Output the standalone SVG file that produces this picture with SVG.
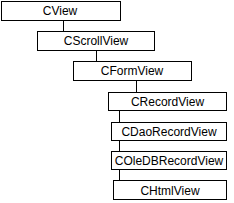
<svg xmlns="http://www.w3.org/2000/svg" width="234" height="203" viewBox="0 0 234 203">
<style>
.box{fill:#fff;stroke:#000;stroke-width:1}
.lbl{font-family:"Liberation Sans",Arial,sans-serif;font-size:12px;fill:#000;text-anchor:middle}
.conn{stroke:#000;stroke-width:1;fill:none}
</style>
<rect width="234" height="203" fill="#fff"/>
<g id="connectors">
<line class="conn" x1="63.5" y1="20" x2="63.5" y2="31"/>
<line class="conn" x1="96.5" y1="50" x2="96.5" y2="61"/>
<line class="conn" x1="136.5" y1="80" x2="136.5" y2="92"/>
<line class="conn" x1="119.5" y1="110" x2="119.5" y2="122"/>
<line class="conn" x1="119.5" y1="140" x2="119.5" y2="151"/>
<line class="conn" x1="119.5" y1="169" x2="119.5" y2="180"/>
</g>
<g id="CView"><rect class="box" x="1.5" y="1.5" width="119" height="19"/><text class="lbl" x="60" y="15">CView</text></g>
<g id="CScrollView"><rect class="box" x="37.5" y="31.5" width="117" height="19"/><text class="lbl" x="96" y="45">CScrollView</text></g>
<g id="CFormView"><rect class="box" x="73.5" y="61.5" width="118" height="19"/><text class="lbl" x="132" y="75">CFormView</text></g>
<g id="CRecordView"><rect class="box" x="108.5" y="92.5" width="118" height="18"/><text class="lbl" x="167.5" y="106">CRecordView</text></g>
<g id="CDaoRecordView"><rect class="box" x="111.5" y="122.5" width="115" height="18"/><text class="lbl" x="169" y="136">CDaoRecordView</text></g>
<g id="COleDBRecordView"><rect class="box" x="111.5" y="151.5" width="115" height="18"/><text class="lbl" x="169" y="165">COleDBRecordView</text></g>
<g id="CHtmlView"><rect class="box" x="113.5" y="180.5" width="113" height="19"/><text class="lbl" x="170" y="195">CHtmlView</text></g>
</svg>
